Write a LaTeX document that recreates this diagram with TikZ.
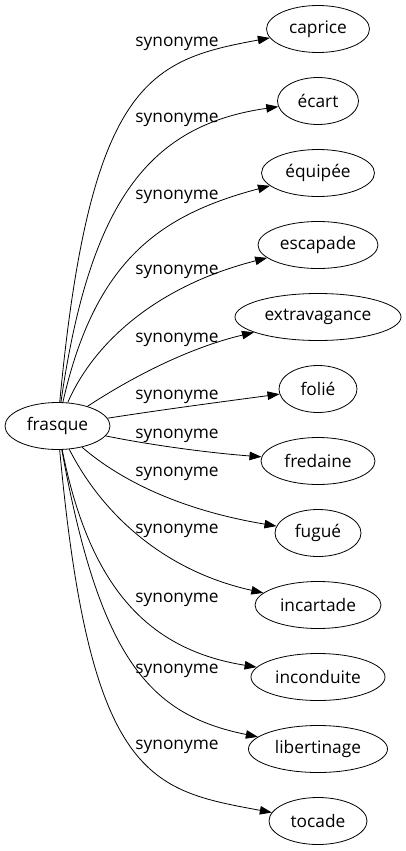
\documentclass[tikz,border=0pt]{standalone}
\usepackage{fontspec}
\setmainfont{Open Sans}
\usetikzlibrary{arrows.meta,shapes.geometric}
\tikzset{
  term/.style={draw, ellipse, line width=0.8pt, inner sep=0pt, minimum height=47pt, font=\fontsize{17.3}{20}\selectfont},
  rel/.style={anchor=base, inner sep=0pt, font=\fontsize{17.3}{20}\selectfont},
  link/.style={line width=0.8pt, -{Triangle[length=12pt,width=8.5pt]}}
}
\begin{document}
\begin{tikzpicture}[x=1pt,y=-1pt]
\useasboundingbox (0,0) rectangle (406,851);
\node[term, minimum width=105pt] (frasque) at (57.5,426) {frasque};
\node[term, minimum width=103pt] (caprice) at (318,29) {caprice};
\node[term, minimum width=81pt] (ecart) at (318,101) {écart};
\node[term, minimum width=113pt] (equipee) at (318,173) {équipée};
\node[term, minimum width=120pt] (escapade) at (318,245) {escapade};
\node[term, minimum width=166pt] (extravagance) at (318,317) {extravagance};
\node[term, minimum width=78pt] (folie) at (318,389) {folié};
\node[term, minimum width=114pt] (fredaine) at (318,461) {fredaine};
\node[term, minimum width=86pt] (fugue) at (318,533) {fugué};
\node[term, minimum width=126pt] (incartade) at (318,605) {incartade};
\node[term, minimum width=134pt] (inconduite) at (318,677) {inconduite};
\node[term, minimum width=139pt] (libertinage) at (318,749) {libertinage};
\node[term, minimum width=98pt] (tocade) at (318,821) {tocade};

\node[rel] (l1) at (177,47) {synonyme};
\node[rel] (l2) at (177,122) {synonyme};
\node[rel] (l3) at (177,199) {synonyme};
\node[rel] (l4) at (177,274) {synonyme};
\node[rel] (l5) at (177,342) {synonyme};
\node[rel] (l6) at (177,399) {synonyme};
\node[rel] (l7) at (177,438) {synonyme};
\node[rel] (l8) at (177,476) {synonyme};
\node[rel] (l9) at (177,533) {synonyme};
\node[rel] (l10) at (177,602) {synonyme};
\node[rel] (l11) at (177,673) {synonyme};
\node[rel] (l12) at (177,749) {synonyme};

\draw[link] (frasque) .. controls (90,80) and (150,60) .. (caprice);
\draw[link] (frasque) .. controls (90,200) and (150,125) .. (ecart);
\draw[link] (frasque) .. controls (95,260) and (160,215) .. (equipee);
\draw[link] (frasque) .. controls (95,340) and (160,285) .. (escapade);
\draw[link] (frasque) .. controls (120,385) and (180,350) .. (extravagance);
\draw[link] (frasque) .. controls (160,410) and (220,402) .. (folie);
\draw[link] (frasque) .. controls (150,445) and (210,453) .. (fredaine);
\draw[link] (frasque) .. controls (120,480) and (180,510) .. (fugue);
\draw[link] (frasque) .. controls (100,510) and (160,570) .. (incartade);
\draw[link] (frasque) .. controls (90,590) and (150,650) .. (inconduite);
\draw[link] (frasque) .. controls (100,660) and (150,715) .. (libertinage);
\draw[link] (frasque) .. controls (90,780) and (150,790) .. (tocade);
\end{tikzpicture}
\end{document}
